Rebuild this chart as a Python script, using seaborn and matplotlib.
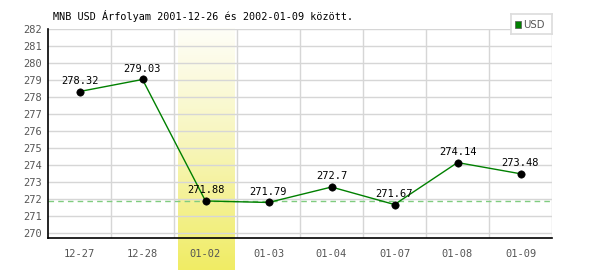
import numpy as np
import pandas as pd
import matplotlib
matplotlib.use("Agg")
import matplotlib.pyplot as plt
import seaborn as sns
from matplotlib.colors import LinearSegmentedColormap
from matplotlib.patches import Rectangle

dates = ["12-27", "12-28", "01-02", "01-03", "01-04", "01-07", "01-08", "01-09"]
values = [278.32, 279.03, 271.88, 271.79, 272.7, 271.67, 274.14, 273.48]
labels = ["278.32", "279.03", "271.88", "271.79", "272.7", "271.67", "274.14", "273.48"]
yticks = list(range(270, 283))
ref_level = 271.88
highlight = "01-02"
title = "MNB USD Árfolyam 2001-12-26 és 2002-01-09 között."

sns.set_theme(style="white")
plt.rcParams["font.family"] = ["DejaVu Sans Mono", "DejaVu Sans"]

df = pd.DataFrame({"date": dates, "value": values})

fig = plt.figure(figsize=(6, 2.7), dpi=100)
ax = fig.add_axes([48/600, (270-238)/270, 504/600, 209/270])

ax.set_xlim(-0.5, len(dates) - 0.5)
ax.set_ylim(269.7, 282)

# highlight band with gradient
hi = dates.index(highlight)
cmap = LinearSegmentedColormap.from_list("y", ["#fefef8", "#f7f5b8", "#f0ec64"])
grad = np.linspace(0, 1, 256).reshape(-1, 1)
ax.imshow(grad, cmap=cmap, aspect="auto", origin="upper",
          extent=(hi - 0.44, hi + 0.46, 267.8, 282.05), zorder=0.5,
          clip_on=False)

# grid
for yv in yticks:
    ax.axhline(yv, color="#d6d6d6", lw=1, zorder=0.8)
for i in range(len(dates)):
    ax.axvline(i + 0.5, color="#d6d6d6", lw=1, zorder=0.8)

ax.axhline(ref_level, color="#80cc80", lw=1, ls=(0, (4, 3)), zorder=1)

sns.lineplot(data=df, x="date", y="value", ax=ax, color="#008000", lw=1,
             sort=False, zorder=2, legend=False)
sns.scatterplot(data=df, x="date", y="value", ax=ax, color="black", s=28,
                edgecolor="black", zorder=3, legend=False)

for d, v, l in zip(dates, values, labels):
    ax.annotate(l, (d, v), xytext=(0, 4), textcoords="offset points",
                ha="center", va="bottom", fontsize=7.5, color="black", zorder=4)

ax.set_xlim(-0.5, len(dates) - 0.5)
ax.set_ylim(269.7, 282)
ax.set_yticks(yticks)
ax.set_yticklabels([str(t) for t in yticks])
ax.set_xlabel("")
ax.set_ylabel("")
ax.tick_params(axis="both", length=0, labelsize=7.5, colors="#555555", pad=4)
ax.tick_params(axis="x", pad=8)
for s in ["top", "right"]:
    ax.spines[s].set_visible(False)
for s in ["left", "bottom"]:
    ax.spines[s].set_color("black")
    ax.spines[s].set_linewidth(1.2)
ax.set_facecolor("white")

fig.text(53/600, 1 - 16/270, title, fontsize=7.3, color="black", va="center", ha="left")

# legend
leg = fig.add_axes([511/600, 1 - 34/270, 41/600, 20/270])
leg.set_xticks([]); leg.set_yticks([])
for s in leg.spines.values():
    s.set_color("#dddddd")
leg.set_xlim(0, 41); leg.set_ylim(0, 20)
leg.add_patch(Rectangle((4, 6), 6, 7, facecolor="#008000", edgecolor="#555555", lw=0.5))
leg.text(12, 9.5, "USD", fontsize=7.3, color="#555555", va="center", ha="left",
         family="DejaVu Sans")

fig.savefig("out.png", dpi=100)
